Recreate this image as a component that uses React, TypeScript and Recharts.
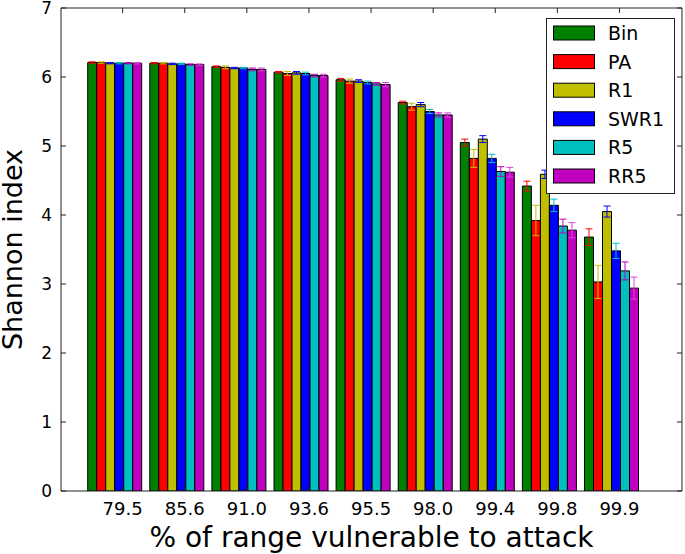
import React from 'react';
import { BarChart, Bar, XAxis, YAxis, ErrorBar, Legend, Label } from 'recharts';

const categories = ['79.5', '85.6', '91.0', '93.6', '95.5', '98.0', '99.4', '99.8', '99.9'];
const yTicks = [0, 1, 2, 3, 4, 5, 6, 7];

const binValues = [6.21, 6.2, 6.15, 6.07, 5.96, 5.63, 5.05, 4.42, 3.68];
const paValues = [6.21, 6.2, 6.14, 6.05, 5.94, 5.57, 4.82, 3.92, 3.03];
const r1Values = [6.2, 6.19, 6.13, 6.06, 5.94, 5.6, 5.1, 4.59, 4.05];
const swr1Values = [6.2, 6.19, 6.13, 6.05, 5.92, 5.5, 4.82, 4.14, 3.48];
const r5Values = [6.2, 6.18, 6.11, 6.02, 5.9, 5.45, 4.63, 3.84, 3.19];
const rr5Values = [6.2, 6.18, 6.11, 6.02, 5.89, 5.45, 4.62, 3.78, 2.94];

const binErrors = [0.01, 0.01, 0.01, 0.01, 0.02, 0.02, 0.05, 0.07, 0.12];
const paErrors = [0.01, 0.01, 0.02, 0.03, 0.03, 0.05, 0.13, 0.22, 0.24];
const r1Errors = [0.01, 0.01, 0.01, 0.02, 0.02, 0.03, 0.05, 0.06, 0.08];
const swr1Errors = [0.01, 0.01, 0.01, 0.02, 0.02, 0.03, 0.06, 0.09, 0.11];
const r5Errors = [0.01, 0.01, 0.02, 0.02, 0.02, 0.03, 0.07, 0.1, 0.13];
const rr5Errors = [0.01, 0.01, 0.02, 0.02, 0.03, 0.03, 0.07, 0.11, 0.16];

const series = [
  { key: 'Bin', values: binValues, errors: binErrors, fill: '#008000', ecolor: '#ff0000' },
  { key: 'PA', values: paValues, errors: paErrors, fill: '#ff0000', ecolor: '#bfbf00' },
  { key: 'R1', values: r1Values, errors: r1Errors, fill: '#bfbf00', ecolor: '#0000ff' },
  { key: 'SWR1', values: swr1Values, errors: swr1Errors, fill: '#0000ff', ecolor: '#00bfbf' },
  { key: 'R5', values: r5Values, errors: r5Errors, fill: '#00bfbf', ecolor: '#bf00bf' },
  { key: 'RR5', values: rr5Values, errors: rr5Errors, fill: '#bf00bf', ecolor: '#e040e0' },
];

const data = categories.map((cat, i) => {
  const row: Record<string, any> = { cat };
  series.forEach((s) => {
    row[s.key] = s.values[i];
    row[s.key + 'Err'] = s.errors[i];
  });
  return row;
});

const FONT = '"DejaVu Sans", sans-serif';
const SPINE = '#222';
const TICK_SHIFT = 7; // matplotlib ticks sit right of the group centre
const TICK_LEN = 5;

const BottomTick = (props: any) => {
  const { x, y, payload } = props;
  const cx = x + TICK_SHIFT;
  return (
    <g>
      <line x1={cx} y1={y} x2={cx} y2={y - TICK_LEN} stroke={SPINE} strokeWidth={1} />
      <text x={cx} y={y + 24} textAnchor="middle" fontFamily={FONT} fontSize={18} fill="#000">
        {payload.value}
      </text>
    </g>
  );
};

const TopTick = (props: any) => {
  const { x, y } = props;
  const cx = x + TICK_SHIFT;
  return <line x1={cx} y1={y} x2={cx} y2={y + TICK_LEN} stroke={SPINE} strokeWidth={1} />;
};

const LeftTick = (props: any) => {
  const { x, y, payload } = props;
  return (
    <g>
      <line x1={x + 9} y1={y} x2={x + 9 + TICK_LEN} y2={y} stroke={SPINE} strokeWidth={1} />
      <text x={x} y={y + 6} textAnchor="end" fontFamily={FONT} fontSize={17} fill="#000">
        {payload.value}
      </text>
    </g>
  );
};

const RightTick = (props: any) => {
  const { x, y } = props;
  return <line x1={x} y1={y} x2={x - TICK_LEN} y2={y} stroke={SPINE} strokeWidth={1} />;
};

const YLabel = (props: any) => {
  const vb = props.viewBox;
  const cx = 22;
  const cy = vb.y + vb.height / 2;
  return (
    <text
      x={cx}
      y={cy}
      transform={`rotate(-90 ${cx} ${cy})`}
      textAnchor="middle"
      fontFamily={FONT}
      fontSize={27}
      fill="#000"
    >
      Shannon index
    </text>
  );
};

const XLabel = (props: any) => {
  const vb = props.viewBox;
  return (
    <text
      x={vb.x + vb.width / 2}
      y={vb.y + vb.height - 7}
      textAnchor="middle"
      fontFamily={FONT}
      fontSize={28}
      fill="#000"
    >
      % of range vulnerable to attack
    </text>
  );
};

const LegendBox = () => {
  const rowH = 28.6;
  return (
    <svg width={130} height={177} style={{ display: 'block' }}>
      <rect x={0.5} y={0.5} width={128} height={175} fill="#fff" stroke={SPINE} strokeWidth={1} />
      {series.map((s, i) => {
        const cy = 15 + i * rowH;
        return (
          <g key={s.key}>
            <rect x={7.5} y={cy - 7} width={41} height={14} fill={s.fill} stroke="#000" strokeWidth={1} />
            <text x={62} y={cy} dominantBaseline="central" fontFamily={FONT} fontSize={19} fill="#000">
              {s.key}
            </text>
          </g>
        );
      })}
    </svg>
  );
};

export default function App() {
  return (
    <div style={{ position: 'absolute', left: 0, top: 0, background: '#fff' }}>
      <BarChart
        width={685}
        height={554}
        data={data}
        margin={{ top: 7, right: 2, bottom: 0, left: 0 }}
        barCategoryGap="5%"
        barGap={0}
      >
        <XAxis
          dataKey="cat"
          type="category"
          height={63}
          padding={{ left: 23.6, right: 38.5 }}
          axisLine={{ stroke: SPINE, strokeWidth: 1 }}
          tickLine={false}
          tickSize={0}
          tickMargin={0}
          tick={<BottomTick />}
          interval={0}
        >
          <Label content={<XLabel />} />
        </XAxis>
        <XAxis
          xAxisId="top"
          dataKey="cat"
          type="category"
          orientation="top"
          height={1}
          padding={{ left: 23.6, right: 38.5 }}
          axisLine={{ stroke: SPINE, strokeWidth: 1 }}
          tickLine={false}
          tickSize={0}
          tickMargin={0}
          tick={<TopTick />}
          interval={0}
        />
        <YAxis
          type="number"
          domain={[0, 7]}
          ticks={yTicks}
          width={61}
          allowDataOverflow
          axisLine={{ stroke: SPINE, strokeWidth: 1 }}
          tickLine={false}
          tickSize={0}
          tickMargin={9}
          tick={<LeftTick />}
          interval={0}
        >
          <Label content={<YLabel />} />
        </YAxis>
        <YAxis
          yAxisId="right"
          orientation="right"
          type="number"
          domain={[0, 7]}
          ticks={yTicks}
          width={1}
          allowDataOverflow
          axisLine={{ stroke: SPINE, strokeWidth: 1 }}
          tickLine={false}
          tickSize={0}
          tickMargin={0}
          tick={<RightTick />}
          interval={0}
        />
        {series.map((s) => (
          <Bar
            key={s.key}
            dataKey={s.key}
            fill={s.fill}
            stroke="#000"
            strokeWidth={1}
            isAnimationActive={false}
          >
            <ErrorBar dataKey={s.key + 'Err'} width={3.5} stroke={s.ecolor} strokeWidth={1} />
          </Bar>
        ))}
        <Legend
          layout="vertical"
          align="center"
          verticalAlign="middle"
          content={<LegendBox />}
          wrapperStyle={{ left: 546, top: 18, width: 130, height: 177 }}
        />
      </BarChart>
    </div>
  );
}
